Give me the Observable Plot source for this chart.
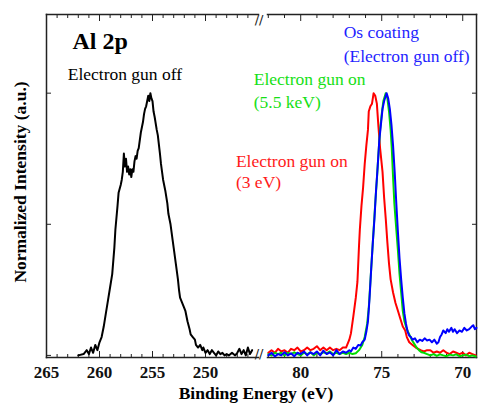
<!DOCTYPE html>
<html><head><meta charset="utf-8">
<script src="https://cdn.jsdelivr.net/npm/d3@7"></script>
<script src="https://cdn.jsdelivr.net/npm/@observablehq/plot@0.6"></script>
<style>
body{margin:0;background:#fff;}
#wrap{position:relative;width:478px;height:405px;font-family:"Liberation Serif","Times New Roman",serif;}
#wrap svg{position:absolute;left:0;top:0;}
#wrap svg text{font-family:"Liberation Serif","Times New Roman",serif !important;}
#wrap svg g.brk text{font-family:"DejaVu Sans",sans-serif !important;}
.ttl{position:absolute;font-weight:bold;font-size:17.5px;white-space:nowrap;color:#000;}
</style></head><body><div id="wrap"></div><script>
// ---- data ----
const blackE = [262.0,261.5,261.2,261.0,260.8,260.6,260.4,260.2,260.0,259.8,259.6,259.4,259.2,259.0,258.8,258.6,258.5,258.3,258.2,258.0,257.9,257.8,257.7,257.6,257.5,257.4,257.3,257.2,257.1,257.0,256.9,256.8,256.7,256.6,256.5,256.4,256.3,256.1,255.9,255.8,255.7,255.6,255.5,255.4,255.3,255.2,255.1,255.0,254.9,254.8,254.6,254.5,254.3,254.2,254.0,253.8,253.6,253.5,253.3,253.1,253.0,252.8,252.6,252.5,252.4,252.2,252.0,251.9,251.7,251.5,251.4,251.2,251.0,250.9,250.7,250.5,250.3,250.2,250.0,249.8,249.6,249.4,249.2,249.0,248.8,248.6,248.4,248.2,248.0,247.8,247.5,247.2,247.0,246.8,246.6,246.4,246.2,246.0,245.8,245.6];
const blackI = [0.0,0.005,0.02,0.005,0.03,0.01,0.04,0.02,0.05,0.07,0.11,0.16,0.21,0.26,0.31,0.41,0.48,0.57,0.62,0.65,0.67,0.70,0.77,0.72,0.75,0.70,0.72,0.69,0.71,0.68,0.71,0.70,0.74,0.76,0.75,0.78,0.79,0.85,0.89,0.92,0.94,0.95,0.97,0.99,0.97,1.0,0.98,0.97,0.93,0.91,0.86,0.84,0.77,0.73,0.67,0.63,0.58,0.54,0.50,0.44,0.41,0.35,0.29,0.25,0.22,0.20,0.18,0.17,0.13,0.10,0.08,0.07,0.06,0.04,0.03,0.04,0.02,0.03,0.01,0.02,0.005,0.02,0.01,0.0,0.015,0.005,0.01,0.0,0.005,0.0,0.01,0.0,0.01,0.025,0.005,0.02,0.0,0.03,0.005,0.02];

const redE = [82.0,81.8,81.6,81.4,81.2,81.0,80.8,80.6,80.4,80.2,80.0,79.8,79.6,79.4,79.2,79.0,78.8,78.6,78.4,78.2,78.0,77.8,77.6,77.4,77.2,77.0,76.9,76.75,76.6,76.5,76.4,76.35,76.25,76.15,76.05,75.95,75.85,75.8,75.7,75.6,75.5,75.4,75.3,75.2,75.1,74.95,74.85,74.75,74.65,74.55,74.45,74.3,74.15,74.0,73.85,73.7,73.55,73.45,73.3,73.1,72.9,72.6,72.4,72.2,72.0,71.8,71.6,71.4,71.2,71.0,70.8,70.6,70.4,70.2,70.0,69.8,69.6,69.4,69.2];
const redI = [0.01,0.02,0.01,0.025,0.015,0.02,0.01,0.025,0.02,0.03,0.015,0.02,0.03,0.02,0.025,0.035,0.02,0.03,0.02,0.03,0.02,0.025,0.02,0.03,0.03,0.06,0.084,0.15,0.22,0.28,0.42,0.48,0.57,0.64,0.73,0.80,0.86,0.93,0.95,0.96,1.0,0.99,0.96,0.87,0.79,0.70,0.60,0.52,0.43,0.35,0.29,0.24,0.20,0.17,0.14,0.11,0.095,0.07,0.05,0.04,0.03,0.02,0.015,0.02,0.02,0.01,0.015,0.01,0.02,0.01,0.005,0.015,0.01,0.005,0.01,0.0,0.01,0.005,0.0];

const greenE = [82.0,81.8,81.6,81.4,81.2,81.0,80.8,80.6,80.4,80.2,80.0,79.8,79.6,79.4,79.2,79.0,78.8,78.6,78.4,78.2,78.0,77.8,77.6,77.4,77.2,77.0,76.8,76.6,76.4,76.2,76.05,75.9,75.8,75.7,75.6,75.5,75.4,75.3,75.2,75.1,75.0,74.9,74.8,74.75,74.65,74.55,74.45,74.38,74.3,74.22,74.1,74.0,73.9,73.8,73.7,73.6,73.45,73.3,73.15,73.0,72.85,72.7,72.55,72.4,72.2,72.0,71.8,71.6,71.4,71.2,71.0,70.8,70.6,70.4,70.2,70.0,69.8,69.6,69.4,69.2];
const greenI = [0.005,0.0,0.01,0.005,0.01,0.0,0.01,0.005,0.012,0.005,0.0,0.01,0.005,0.012,0.0,0.01,0.005,0.012,0.008,0.015,0.005,0.01,0.005,0.01,0.005,0.01,0.005,0.008,0.02,0.04,0.07,0.12,0.18,0.28,0.38,0.48,0.58,0.67,0.77,0.86,0.92,0.97,0.99,1.0,0.98,0.93,0.86,0.79,0.68,0.58,0.48,0.40,0.31,0.24,0.17,0.13,0.10,0.08,0.06,0.045,0.03,0.02,0.012,0.01,0.005,0.0,0.005,-0.002,0.004,0.0,-0.003,0.003,0.0,0.004,-0.003,0.0,0.003,-0.003,0.0,-0.004];

const blueE = [82.0,81.8,81.6,81.4,81.2,81.0,80.8,80.6,80.4,80.2,80.0,79.8,79.6,79.4,79.2,79.0,78.8,78.6,78.4,78.2,78.0,77.8,77.6,77.4,77.2,77.0,76.9,76.75,76.6,76.45,76.3,76.2,76.05,75.95,75.85,75.75,75.65,75.55,75.45,75.35,75.25,75.15,75.05,74.95,74.85,74.75,74.7,74.6,74.5,74.4,74.3,74.2,74.1,74.0,73.9,73.8,73.7,73.6,73.5,73.4,73.3,73.2,73.1,72.95,72.8,72.65,72.5,72.35,72.2,72.05,71.9,71.75,71.6,71.5,71.4,71.3,71.2,71.05,70.95,70.85,70.7,70.6,70.5,70.35,70.2,70.05,69.9,69.75,69.6,69.45,69.35,69.25,69.15];
const blueI = [0.0,0.01,-0.004,0.005,0.0,0.012,0.0,0.008,-0.003,0.01,0.005,0.015,0.0,0.012,0.005,0.015,0.0,0.018,0.005,0.012,0.0,0.02,0.005,0.015,0.01,0.02,0.015,0.03,0.025,0.04,0.038,0.05,0.06,0.09,0.13,0.22,0.33,0.43,0.52,0.63,0.72,0.82,0.88,0.94,0.97,0.99,1.0,0.98,0.94,0.88,0.80,0.70,0.58,0.47,0.37,0.29,0.22,0.16,0.12,0.09,0.075,0.07,0.06,0.065,0.05,0.06,0.055,0.065,0.057,0.06,0.05,0.06,0.045,0.05,0.07,0.08,0.095,0.085,0.10,0.09,0.105,0.09,0.10,0.085,0.095,0.09,0.105,0.095,0.10,0.11,0.115,0.10,0.105];

const leftMajor = [265, 260, 255, 250];
const leftMinor = [264,263,262,261,259,258,257,256,254,253,252,251,249,248,247,246];
const rightMajor = [80, 75, 70];
const rightMinor = [82,81,79,78,77,76,74,73,72,71];
const yTicks = [0, 0.5, 1];

const titleLabel = [{text: "Al 2p", E: 262.55, I: 1.197}];
const leftLabels = [{text: "Electron gun off", E: 263.0, I: 1.071}];
const rightLabels = [
  {text: "Os coating", E: 77.35, I: 1.231, color: "#1f1fff"},
  {text: "(Electron gun off)", E: 77.35, I: 1.140, color: "#1f1fff"},
  {text: "Electron gun on", E: 82.9, I: 1.052, color: "#16e016"},
  {text: "(5.5 keV)", E: 82.9, I: 0.964, color: "#16e016"},
  {text: "Electron gun on", E: 84.0, I: 0.739, color: "#ff1a1a"},
  {text: "(3 eV)", E: 84.0, I: 0.659, color: "#ff1a1a"}
];

// ---- build tables ----
const toRows = (E, I) => E.map((e, i) => ({E: e, I: I[i]}));
const black = toRows(blackE, blackI);
const red = toRows(redE, redI), green = toRows(greenE, greenI), blue = toRows(blueE, blueI);

const FONT = "Liberation Serif";
const common = {
  width: 478, height: 405, marginTop: 14, marginBottom: 48,
  y: {domain: [-0.008, 1.30]},
  style: {background: "transparent", overflow: "visible", color: "#000"}
};
const fr = (a) => Plot.frame({anchor: a, stroke: "#222", strokeWidth: 1.5});
const tickAx = (ticks, anchor, size) => Plot.axisX(ticks, {anchor, tickSize: -size, tickFormat: () => "", label: null, stroke: "#222"});
const labAx = (ticks) => Plot.axisX(ticks, {anchor: "bottom", tickSize: 0, tickPadding: 8, tickFormat: d => String(d), label: null, fontSize: 17, fontWeight: "bold", fontFamily: FONT, fill: "#111"});
const brk = (anchor) => Plot.text(["//"], {frameAnchor: anchor, dx: 5, text: d => d, fontSize: 13, fill: "#222", className: "brk"});

const left = Plot.plot({
  ...common,
  marginLeft: 46, marginRight: 220,
  x: {domain: [265, 245]},
  marks: [
    fr("left"), fr("top"), fr("bottom"),
    tickAx(leftMajor, "bottom", 6), tickAx(leftMinor, "bottom", 3),
    tickAx(leftMajor, "top", 6), tickAx(leftMinor, "top", 3),
    labAx(leftMajor),
    Plot.axisY(yTicks, {anchor: "left", tickSize: -5, tickFormat: () => "", label: null, stroke: "#222"}),
    Plot.line(black, {x: "E", y: "I", stroke: "#000", strokeWidth: 2}),
    Plot.text(titleLabel, {x: "E", y: "I", text: "text", fontSize: 24, fontWeight: "bold", fill: "#000", textAnchor: "start", lineAnchor: "middle", fontFamily: FONT}),
    Plot.text(leftLabels, {x: "E", y: "I", text: "text", fontSize: 17.5, fill: "#000", textAnchor: "start", lineAnchor: "middle", fontFamily: FONT}),
    brk("top-right"), brk("bottom-right")
  ]
});

const right = Plot.plot({
  ...common,
  marginLeft: 267, marginRight: 2,
  x: {domain: [82.05, 69.15]},
  marks: [
    fr("right"), fr("top"), fr("bottom"),
    tickAx(rightMajor, "bottom", 6), tickAx(rightMinor, "bottom", 3),
    tickAx(rightMajor, "top", 6), tickAx(rightMinor, "top", 3),
    labAx(rightMajor),
    Plot.axisY(yTicks, {anchor: "right", tickSize: -5, tickFormat: () => "", label: null, stroke: "#222"}),
    Plot.line(red, {x: "E", y: "I", stroke: "#ff0000", strokeWidth: 2}),
    Plot.line(green, {x: "E", y: "I", stroke: "#00dd00", strokeWidth: 2}),
    Plot.line(blue, {x: "E", y: "I", stroke: "#0000ff", strokeWidth: 2}),
    Plot.text(rightLabels, {x: "E", y: "I", text: "text", fill: "color", fontSize: 17.5, textAnchor: "start", lineAnchor: "middle", fontFamily: FONT})
  ]
});

const wrap = document.getElementById("wrap");
wrap.appendChild(left);
wrap.appendChild(right);
const xt = document.createElement("div");
xt.className = "ttl"; xt.textContent = "Binding Energy (eV)";
xt.style.left = "256px"; xt.style.top = "393px"; xt.style.transform = "translate(-50%,-50%)";
wrap.appendChild(xt);
const yt = document.createElement("div");
yt.className = "ttl"; yt.textContent = "Normalized Intensity (a.u.)";
yt.style.left = "20px"; yt.style.top = "182px"; yt.style.transform = "translate(-50%,-50%) rotate(-90deg)";
wrap.appendChild(yt);
</script></body></html>
